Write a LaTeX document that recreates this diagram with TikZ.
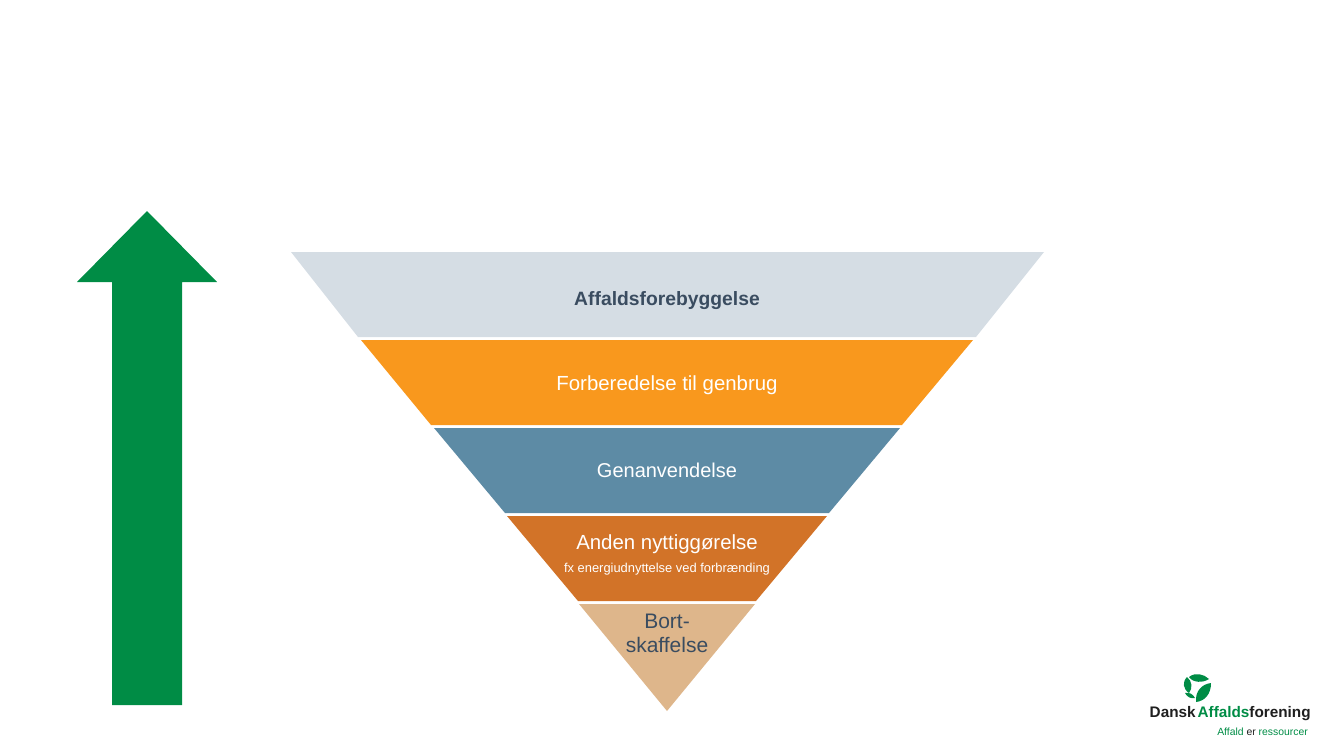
\documentclass[tikz,border=0pt]{standalone}
\usepackage{fontspec}
\setmainfont{Liberation Sans}
\usepackage{tikz}
\usetikzlibrary{positioning}
\definecolor{layerGrey}{HTML}{D5DDE4}
\definecolor{layerOrange}{HTML}{F9981D}
\definecolor{layerBlue}{HTML}{5D8BA5}
\definecolor{layerRust}{HTML}{D27328}
\definecolor{layerTan}{HTML}{DEB68B}
\definecolor{arrowGreen}{HTML}{008C45}
\definecolor{textSlate}{HTML}{3A4C60}
\definecolor{logoInk}{HTML}{1F1F1F}
\tikzset{
    layer_dark/.style={align=center, inner sep=0pt, text=textSlate, font=\fontsize{21}{24}\selectfont},
    layer_light/.style={align=center, inner sep=0pt, text=white, font=\fontsize{20.4}{24}\selectfont},
    layer_note/.style={inner sep=0pt, text=white, font=\fontsize{12.9}{15}\selectfont},
    logo_name/.style={inner sep=0pt, font=\fontsize{15.3}{18}\bfseries\selectfont},
    logo_tag/.style={inner sep=0pt, font=\fontsize{10.4}{12}\selectfont}
}

\begin{document}
\begin{tikzpicture}[x=1pt, y=-1pt]
    \useasboundingbox (0,0) rectangle (1333,750);

    % Green arrow
    \fill[arrowGreen] (112,705) -- (112,282) -- (77,282) -- (147,211) -- (217,282) -- (182,282) -- (182,705) -- cycle;

    % Funnel layers
    \fill[layerGrey] (291,252) -- (1044,252) -- (976,337) -- (358,337) -- cycle;
    \fill[layerOrange] (361,340) -- (973,340) -- (902,425) -- (431,425) -- cycle;
    \fill[layerBlue] (434,428) -- (900,428) -- (829,513) -- (505,513) -- cycle;
    \fill[layerRust] (507,516) -- (827,516) -- (756,601) -- (578,601) -- cycle;
    \fill[layerTan] (579,604) -- (755,604) -- (667,711) -- cycle;

    % Layer labels
    \node[layer_dark, font=\fontsize{19.3}{24}\selectfont] (prevent) at (667,300.5) {\textbf{Affaldsforebyggelse}};
    \node[layer_light] (reuse) at (667,385) {Forberedelse til genbrug};
    \node[layer_light, font=\fontsize{20}{24}\selectfont] (recycle) at (667,470) {Genanvendelse};
    \node[layer_light] (recover) at (667,544) {Anden nyttiggørelse};
    \node[layer_note, below=9pt of recover] (recovernote) {fx energiudnyttelse ved forbrænding};
    \node[layer_dark] (dispose) at (667,633) {Bort-\\skaffelse};

    % Logo
    \fill[arrowGreen] (1189,677) .. controls (1195,672) and (1204,674) .. (1209,679) .. controls (1203,683) and (1193,683) .. (1189,677) -- cycle;
    \fill[arrowGreen] (1187,677) .. controls (1182,682) and (1183,689) .. (1189,693) .. controls (1193,688) and (1192,681) .. (1187,677) -- cycle;
    \fill[arrowGreen] (1211,683) .. controls (1202,684) and (1195,691) .. (1196,702) .. controls (1205,701) and (1211,694) .. (1211,683) -- cycle;
    \fill[arrowGreen] (1185,693) .. controls (1187,697) and (1191,699) .. (1195,698) .. controls (1193,694) and (1189,692) .. (1185,693) -- cycle;
    \node[logo_name, anchor=west, text=logoInk] (logoname) at (1149.5,714) {Dansk\hspace{2pt}\textcolor{arrowGreen}{Affalds}forening};
    \node[logo_tag, anchor=east, text=arrowGreen] (logotag) at (1308,732) {Affald \textcolor{logoInk}{er} ressourcer};
\end{tikzpicture}
\end{document}
